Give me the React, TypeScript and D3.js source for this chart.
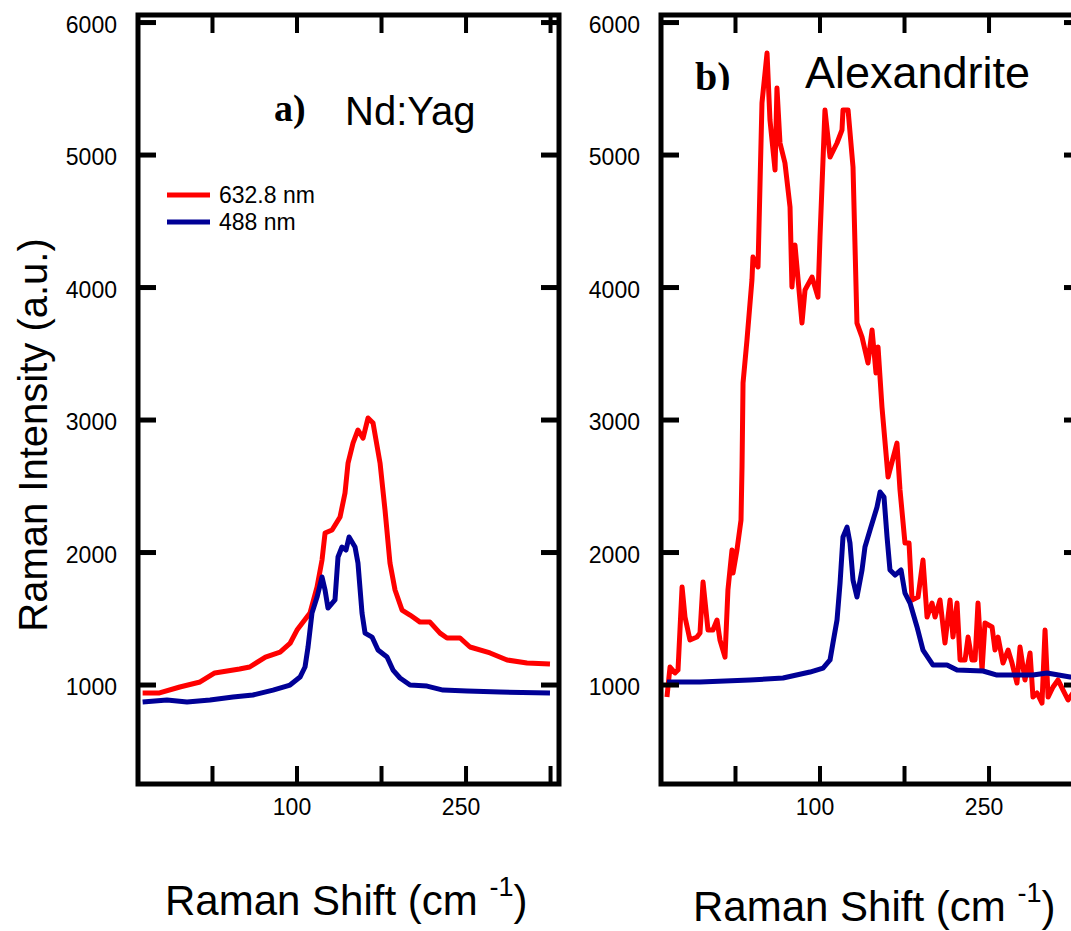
import React from "react";
import * as d3 from "d3";

// ---- Data (Raman shift cm-1, intensity a.u.) ----
const ndYag632: [number, number][] = [
  [-37, 940], [-22, 940], [-4, 985], [14, 1023], [27, 1091], [49, 1121], [58, 1136],
  [72, 1211], [85, 1249], [94, 1317], [100, 1415], [111.5, 1543], [117.8, 1740],
  [122.2, 1943], [124.9, 2147], [131.1, 2170], [138.2, 2268], [142.6, 2449],
  [145.3, 2675], [149.7, 2826], [154.1, 2925], [158.6, 2864], [163, 3015],
  [167.5, 2977], [173.7, 2675], [178.1, 2321], [182.5, 1921], [187, 1717],
  [193.2, 1566], [200.3, 1528], [209.2, 1475], [218, 1475], [226.9, 1392],
  [233.1, 1355], [244.7, 1355], [253.5, 1287], [271.3, 1242], [286.4, 1189],
  [304.1, 1166], [324.5, 1158],
];
const ndYag488: [number, number][] = [
  [-37, 872], [-15.4, 887], [2.4, 872], [22.8, 887], [43.2, 909], [60.9, 925],
  [78.7, 962], [93.8, 1000], [102.7, 1060], [107.1, 1136], [109.8, 1287],
  [113.3, 1543], [117.8, 1664], [122.2, 1815], [124.9, 1717], [127.5, 1581],
  [133.7, 1642], [136.4, 1966], [139.9, 2042], [143.5, 2019], [146.2, 2117],
  [151.5, 2042], [154.1, 1921], [157.7, 1543], [160.4, 1392], [166.6, 1362],
  [171.9, 1264], [179.9, 1211], [185.2, 1113], [191.4, 1053], [200.3, 1000],
  [215.4, 992], [229.6, 962], [250.9, 955], [280.2, 947], [324.5, 940],
];
const alex632: [number, number][] = [
  [-35.8, 909], [-33.1, 1136], [-28.7, 1091], [-26, 1113], [-22.4, 1740],
  [-19.8, 1513], [-15.4, 1340], [-9.2, 1362], [-6.5, 1392], [-3.8, 1777],
  [0.6, 1415], [5, 1415], [8.6, 1491], [11.2, 1340], [15.7, 1211], [18.3, 1717],
  [21.9, 2019], [22.8, 1845], [26.3, 2019], [29.9, 2245], [30.8, 2645],
  [31.7, 3279], [35.2, 3604], [39.6, 4057], [40.5, 4230], [45, 4155],
  [48.5, 5392], [53, 5770], [55.6, 5264], [60.1, 4887], [61.8, 5506],
  [64.5, 5091], [68.9, 4940], [73.4, 4608], [75.1, 4004], [77.8, 4321],
  [84, 3732], [86.7, 3981], [92.9, 4079], [98.2, 3928], [100, 4381],
  [104.4, 5340], [108.9, 4985], [115.1, 5091], [119.5, 5189], [120.4, 5340],
  [124.9, 5340], [129.3, 4909], [132.8, 3732], [137.3, 3626], [142.6, 3430],
  [146.2, 3679], [149.7, 3355], [151.5, 3551], [155, 3098], [160.4, 2570],
  [168.3, 2826], [171, 2472], [175.4, 2072], [179, 2072], [181.7, 1642],
  [187, 1664], [191.4, 1943], [195, 1513], [199.4, 1619], [202.1, 1513],
  [206.5, 1642], [210.9, 1317], [215.4, 1642], [218, 1362], [221.6, 1619],
  [224.3, 1189], [228.7, 1189], [231.4, 1362], [234.9, 1189], [237.6, 1189],
  [240.2, 1619], [243.8, 1113], [246.4, 1468], [252.7, 1438], [255.3, 1264],
  [258, 1362], [262.4, 1166], [266.9, 1264], [270.4, 1166], [274.8, 1015],
  [277.5, 1287], [281.9, 1038], [286.4, 1242], [289, 909], [292.6, 940],
  [297, 864], [299.7, 1415], [302.4, 909], [306.8, 985], [311.2, 1038],
  [315.7, 962], [320.1, 887], [326.3, 962], [330.8, 887],
];
const alex488: [number, number][] = [
  [-35.8, 1023], [-6.5, 1023], [37.9, 1038], [67.2, 1053], [91.1, 1098],
  [102.7, 1128], [108.9, 1189], [111.5, 1317], [115.1, 1491], [117.8, 1770],
  [120.4, 2117], [124, 2192], [126.6, 2072], [129.3, 1792], [132.8, 1664],
  [137.3, 1868], [139.9, 2042], [144.4, 2170], [150.6, 2343], [153.3, 2457],
  [156.8, 2419], [159.5, 2117], [162.1, 1868], [166.6, 1830], [171.9, 1868],
  [175.4, 1694], [179.9, 1619], [186.1, 1438], [191.4, 1264], [200.3, 1151],
  [212.7, 1151], [221.6, 1113], [244.7, 1106], [257.1, 1075], [289, 1075],
  [301.5, 1091], [321.9, 1060], [330.8, 1060],
];

const xTicks = [25, 100, 175, 250, 325];
const xTickLabels = ["", "100", "", "250", ""];
const yTicks = [1000, 2000, 3000, 4000, 5000, 6000];
const seriesNames = ["632.8 nm", "488 nm"];

const RED = "#ff0000";
const BLUE = "#000096";
const FONT = "Liberation Sans, Arial, Helvetica, sans-serif";
const SERIF = "Liberation Serif, Times New Roman, serif";

const TOP = 15;
const BOTTOM = 784;
const PW = 421;
const TL = 18;

function Panel({ x0, red, blue }: { x0: number; red: [number, number][]; blue: [number, number][] }) {
  const x = d3.scaleLinear().domain([-41.1, 332.5]).range([x0, x0 + PW]);
  const y = d3.scaleLinear().domain([253, 6057]).range([BOTTOM, TOP]);
  const line = d3
    .line<[number, number]>()
    .x((d) => x(d[0]))
    .y((d) => y(d[1]));
  return (
    <g>
      <path d={line(red) || ""} fill="none" stroke={RED} strokeWidth={5} strokeLinejoin="round" />
      <path d={line(blue) || ""} fill="none" stroke={BLUE} strokeWidth={5} strokeLinejoin="round" />
      {/* frame */}
      <rect x={x0} y={TOP} width={PW} height={BOTTOM - TOP} fill="none" stroke="#000" strokeWidth={5} />
      {yTicks.map((t) => (
        <g key={"y" + t}>
          <line x1={x0} x2={x0 + TL} y1={y(t)} y2={y(t)} stroke="#000" strokeWidth={5} />
          <line x1={x0 + PW - TL} x2={x0 + PW} y1={y(t)} y2={y(t)} stroke="#000" strokeWidth={5} />
          <text x={x0 - 21} y={y(t) + 10} textAnchor="end" fontSize={23} fontFamily={FONT}>
            {t}
          </text>
        </g>
      ))}
      {xTicks.map((t, i) => (
        <g key={"x" + t}>
          <line x1={x(t)} x2={x(t)} y1={BOTTOM} y2={BOTTOM - TL} stroke="#000" strokeWidth={4} />
          <line x1={x(t)} x2={x(t)} y1={TOP} y2={TOP + TL} stroke="#000" strokeWidth={4} />
          {xTickLabels[i] && (
            <text x={x(t) - 5} y={BOTTOM + 31} textAnchor="middle" fontSize={23} fontFamily={FONT}>
              {xTickLabels[i]}
            </text>
          )}
        </g>
      ))}
    </g>
  );
}

export default function App() {
  return (
    <svg
      width={1071}
      height={931}
      style={{ position: "absolute", left: 0, top: 0, display: "block", background: "#fff" }}
    >
      <defs>
        <clipPath id="bclip">
          <rect x={600} y={0} width={200} height={90} />
        </clipPath>
      </defs>
      <rect x={0} y={0} width={1071} height={931} fill="#fff" />
      <Panel x0={138} red={ndYag632} blue={ndYag488} />
      <Panel x0={661} red={alex632} blue={alex488} />

      {/* legend */}
      <line x1={167} x2={210} y1={195} y2={195} stroke={RED} strokeWidth={5} />
      <text x={219} y={203} fontSize={23} fontFamily={FONT}>{seriesNames[0]}</text>
      <line x1={167} x2={210} y1={222} y2={222} stroke={BLUE} strokeWidth={5} />
      <text x={219} y={230} fontSize={23} fontFamily={FONT}>{seriesNames[1]}</text>

      {/* panel titles */}
      <text x={274} y={121} fontSize={38} fontWeight="bold" fontFamily={SERIF}>a)</text>
      <text x={345} y={125} fontSize={40} fontFamily={FONT}>Nd:Yag</text>
      <text x={695} y={90} fontSize={40} fontWeight="bold" fontFamily={SERIF} clipPath="url(#bclip)">b)</text>
      <text x={805} y={88} fontSize={45} fontFamily={FONT}>Alexandrite</text>

      {/* axis titles */}
      <text transform="translate(47,435) rotate(-90)" textAnchor="middle" fontSize={40} fontFamily={FONT}>
        Raman Intensity (a.u.)
      </text>
      <text x={165} y={915} fontSize={42} fontFamily={FONT}>
        Raman Shift (cm <tspan dy={-19} fontSize={27}>-1</tspan>
        <tspan dy={19}>)</tspan>
      </text>
      <text x={693} y={921} fontSize={42} fontFamily={FONT}>
        Raman Shift (cm <tspan dy={-19} fontSize={27}>-1</tspan>
        <tspan dy={19}>)</tspan>
      </text>
    </svg>
  );
}
